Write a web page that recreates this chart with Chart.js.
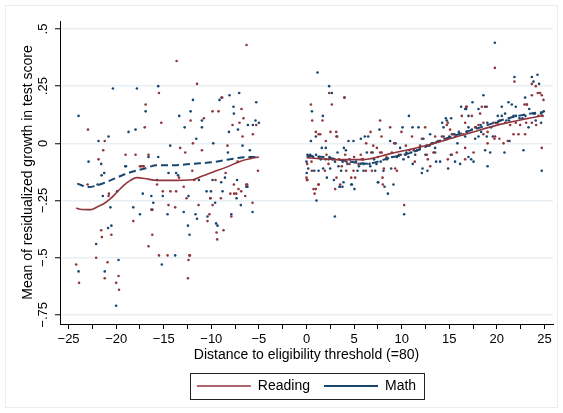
<!DOCTYPE html>
<html>
<head>
<meta charset="utf-8">
<script src="https://cdn.jsdelivr.net/npm/chart.js@4.4.0/dist/chart.umd.min.js"></script>
<style>
  html, body { margin: 0; padding: 0; background: #fff; }
</style>
</head>
<body>
<canvas id="growth" width="563" height="413"></canvas>
<script>
// axis ticks
const xTicks = [-25, -22.5, -20, -17.5, -15, -12.5, -10, -7.5, -5, -2.5, 0, 2.5, 5, 7.5, 10, 12.5, 15, 17.5, 20, 22.5, 25];
const yTicks = [0.5, 0.25, 0, -0.25, -0.5, -0.75];
const yTickLabels = ['.5', '.25', '0', '\u2212.25', '\u2212.5', '\u2212.75'];

// binned means, reading (distance, residualized growth)
const readingDots = [
  [-22.96,0.06],[-21.85,-0.07],[-21.36,-0.03],[-21.2,0.01],[-19.01,-0.05],[-17.96,-0.05],[-17.4,-0.1],[-17.1,-0.1],
  [-17.0,0.07],[-16.9,0.17],[-15.5,0.22],[-15.26,0.09],[-16.6,-0.05],[-13.65,0.36],[-13.27,-0.02],[-12.74,-0.04],
  [-12.18,0.1],[-11.5,0.26],[-11.93,0.0],[-10.99,-0.03],[-10.78,0.11],[-9.87,0.14],[-9.24,0.14],[-8.86,0.2],
  [-8.3,-0.01],[-7.77,0.08],[-7.24,-0.08],[-7.04,0.09],[-6.83,0.15],[-6.72,0.03],[-6.62,0.11],[-6.3,0.43],
  [-5.63,0.04],[-5.28,0.08],[-5.1,-0.12],
  [-24.2,-0.53],[-23.9,-0.61],[-22.1,-0.5],[-21.57,-0.38],[-21.5,-0.41],[-21.2,-0.59],[-20.9,-0.52],[-20.8,-0.23],
  [-20.5,-0.4],[-20.0,-0.61],[-19.75,-0.58],[-19.7,-0.64],[-18.2,-0.34],[-16.6,-0.45],[-16.2,-0.4],[-16.3,-0.29],
  [-15.5,-0.49],[-14.5,-0.27],[-15.1,-0.21],[-13.8,-0.28],[-12.9,-0.19],[-12.46,-0.59],[-12.4,-0.51],[-12.25,-0.49],
  [-11.34,-0.27],[-10.4,-0.34],[-10.2,-0.31],[-9.87,-0.27],[-9.45,-0.39],[-9.38,-0.42],[-8.72,-0.38],[-7.9,-0.32],
  [-7.6,-0.22],[-7.14,-0.2],[-6.44,-0.23],[-5.67,-0.26],[-6.23,-0.18],
  [-23.0,-0.18],[-20.76,-0.22],[-15.7,-0.18],[-17.5,-0.1],[-17.2,-0.1],[-13.4,-0.15],[-14.3,-0.21],[-13.7,-0.21],
  [-12.6,-0.24],[-12.0,-0.12],[-11.8,-0.16],[-10.1,-0.24],[-9.56,-0.16],[-8.5,-0.13],[-9.0,-0.24],[-8.0,-0.22],
  [-7.63,-0.18],[-7.38,-0.22],[-6.86,-0.21],[-6.33,-0.18],[-14.6,-0.49],[-12.3,-0.49],
  [0.46,0.17],[0.6,0.1],[1.68,0.1],[2.38,0.22],[2.66,0.17],[3.99,0.2],[0.98,0.05],[1.27,0.04],[1.44,0.04],
  [2.52,0.05],[3.12,0.05],[3.15,0.03],[2.03,0.01],[0.07,-0.09],[0.0,-0.15],[0.04,-0.16],[0.53,-0.08],[0.56,-0.12],
  [0.85,-0.22],[0.98,-0.2],[1.27,-0.18],[1.93,-0.12],[2.31,-0.09],[3.01,-0.2],[3.54,-0.18],[3.15,-0.15],[4.17,-0.12],
  [4.07,-0.05],[4.7,-0.15],[5.11,-0.15],[4.94,-0.12],[5.46,-0.09],[5.81,-0.07],[6.27,0.0],[6.73,0.05],[7.01,-0.01],
  [7.39,-0.02],[7.74,0.1],[7.88,0.03],[6.24,-0.12],[6.87,-0.12],[8.02,-0.18],[7.99,-0.15],[4.52,-0.09],[2.31,-0.07],
  [3.71,-0.1],[0.74,-0.2],[1.26,-0.18],[0.1,-0.16],
  [1.3,-0.06],[2.1,-0.05],[2.9,-0.07],[3.4,-0.07],[4.2,-0.08],[5.0,-0.06],[5.7,-0.05],[5.95,-0.07],[6.8,-0.04],
  [7.5,-0.06],[7.9,-0.04],
  [10.26,-0.27],[8.79,0.07],[9.98,0.05],[12.47,0.07],[11.09,0.03],[12.12,0.02],[10.44,-0.01],[9.21,0.0],[8.13,-0.11],
  [9.32,-0.11],[9.5,-0.12],[10.4,-0.05],[11.38,-0.08],[11.59,-0.03],[12.75,-0.07],[12.64,-0.05],[13.52,0.03],
  [13.34,-0.04],[13.0,-0.1],[14.22,0.03],[14.74,0.08],[15.09,0.06],[15.27,0.04],[14.85,-0.07],[15.27,-0.05],
  [15.79,-0.04],[16.32,0.12],[16.77,0.16],[16.84,0.05],[16.67,-0.07],[14.85,0.09],[7.74,-0.04],[8.97,-0.04],
  [11.94,-0.01],[10.8,-0.03],[11.3,-0.03],[12.9,-0.01],[13.8,0.01],[14.5,0.02],[15.6,0.03],[16.5,0.04],[9.7,-0.05],
  [8.4,-0.06],
  [19.79,0.33],[21.85,0.27],[23.68,0.26],[24.09,0.25],[24.55,0.22],[24.72,0.21],[24.3,0.22],[24.9,0.19],[23.68,0.21],
  [23.15,0.17],[16.84,0.16],[18.42,0.16],[18.94,0.16],[18.24,0.13],[17.37,0.12],[16.67,0.09],[17.72,0.07],[18.07,0.08],
  [18.59,0.09],[19.65,0.09],[20.1,0.09],[20.87,0.09],[21.4,0.08],[21.99,0.09],[22.45,0.08],[22.9,0.17],[24.13,0.08],
  [24.37,0.12],[24.79,0.12],[18.59,0.04],[19.03,0.05],[19.82,0.03],[20.27,0.02],[20.7,0.0],[21.15,0.01],[21.75,0.04],
  [22.27,0.04],[22.97,0.04],[23.08,0.09],[19.75,0.02],[17.55,-0.04],[16.67,-0.02],[19.03,0.0],[24.72,-0.02],[23.68,0.09]
];

// binned means, math
const mathDots = [
  [-23.95,0.12],[-22.9,-0.08],[-21.85,0.01],[-21.57,-0.09],[-21.53,-0.14],[-21.25,-0.13],[-20.8,0.03],[-20.34,0.24],
  [-19.04,-0.1],[-18.7,0.05],[-17.96,0.06],[-17.82,0.24],[-16.9,0.14],[-16.6,-0.06],[-15.58,0.25],[-15.58,-0.06],
  [-14.32,-0.01],[-13.37,0.12],[-12.8,0.07],[-12.18,0.14],[-11.93,0.19],[-11.58,0.02],[-10.99,0.07],[-10.99,0.1],
  [-9.8,0.0],[-9.14,0.19],[-8.93,0.2],[-8.26,-0.04],[-8.09,0.21],[-8.15,0.05],[-7.67,0.16],[-7.63,0.13],[-7.2,0.06],
  [-7.07,0.22],[-6.72,-0.01],[-6.16,0.08],[-5.95,-0.03],[-5.63,0.08],[-5.36,0.1],[-5.0,0.09],[-5.28,0.18],
  [-23.95,-0.56],[-22.1,-0.44],[-21.2,-0.56],[-20.85,-0.37],[-20.5,-0.36],[-20.6,-0.28],[-20.0,-0.71],[-19.75,-0.51],
  [-18.2,-0.28],[-17.2,-0.22],[-17.5,-0.31],[-16.2,-0.29],[-16.1,-0.26],[-15.2,-0.53],[-14.6,-0.31],[-13.8,-0.49],
  [-12.9,-0.3],[-12.46,-0.36],[-12.29,-0.4],[-11.66,-0.31],[-11.5,-0.33],[-10.4,-0.32],[-10.1,-0.24],[-9.6,-0.26],
  [-9.5,-0.35],[-9.35,-0.36],[-7.9,-0.31],[-6.9,-0.27],[-6.33,-0.19],[-5.67,-0.3],[-10.04,-0.21],
  [-18.97,-0.1],[-21.95,-0.18],[-21.4,-0.23],[-19.9,-0.21],[-16.3,-0.23],[-15.7,-0.16],[-14.5,-0.13],[-13.7,-0.13],
  [-13.5,-0.14],[-15.1,-0.23],[-12.4,-0.23],[-11.3,-0.16],[-10.5,-0.21],[-9.87,-0.16],[-8.96,-0.17],[-8.57,-0.15],
  [-8.82,-0.21],[-7.3,-0.16],[-7.35,-0.24],[-6.2,-0.19],
  [1.16,0.31],[2.38,0.25],[2.66,0.22],[3.99,0.2],[0.57,0.14],[1.72,0.12],[0.46,0.01],[0.98,0.03],[3.22,0.03],
  [1.61,-0.02],[2.03,-0.02],[0.11,-0.05],[0.39,-0.05],[0.0,-0.08],[0.18,-0.11],[0.02,-0.13],[0.81,-0.12],[1.27,-0.12],
  [1.75,-0.11],[2.14,-0.15],[2.49,-0.11],[2.88,-0.16],[3.26,-0.04],[3.36,-0.1],[3.64,-0.12],[3.89,-0.17],[3.5,-0.19],
  [2.98,-0.32],[1.05,-0.25],[4.41,0.01],[4.94,0.01],[3.93,-0.02],[4.14,-0.03],[4.52,-0.07],[5.04,-0.2],[4.77,-0.18],
  [5.36,-0.12],[5.67,-0.09],[5.71,0.02],[6.13,0.03],[6.48,0.03],[6.34,-0.04],[5.99,-0.12],[6.62,-0.09],[6.94,-0.04],
  [7.22,-0.12],[7.53,-0.17],[7.35,-0.09],[7.67,0.06],[8.09,-0.12],[2.42,-0.06],[2.73,-0.07],
  [8.2,-0.19],[7.5,-0.17],[9.14,-0.18],[4.7,-0.18],[3.47,-0.19],[3.78,-0.19],
  [0.3,-0.06],[0.7,-0.06],[1.0,-0.05],[1.5,-0.07],[2.0,-0.07],[3.0,-0.08],[3.8,-0.08],[4.3,-0.09],[5.2,-0.08],
  [5.5,-0.1],[6.0,-0.09],[6.7,-0.1],[7.1,-0.07],[7.8,-0.08],
  [10.76,0.12],[11.14,0.07],[11.77,0.07],[10.09,0.07],[9.35,0.0],[8.79,0.01],[9.84,-0.02],[8.9,-0.11],[8.55,-0.22],
  [10.26,-0.31],[10.71,-0.06],[11.16,-0.09],[11.42,-0.05],[12.12,-0.13],[12.19,-0.11],[12.71,-0.12],[12.29,0.02],
  [12.99,0.04],[13.16,0.0],[13.51,-0.02],[13.51,-0.04],[13.62,-0.08],[14.04,-0.08],[14.25,0.09],[14.39,0.07],
  [14.64,0.11],[14.74,0.1],[15.2,0.11],[14.88,-0.11],[15.16,-0.05],[15.61,-0.08],[15.55,0.04],[15.86,0.0],[16.25,0.16],
  [16.77,0.15],[16.14,-0.09],[16.67,0.03],[17.02,0.12],[9.5,-0.06],[8.44,-0.07],[10.19,-0.07],[11.28,-0.03],[12.5,-0.05],
  [9.0,-0.06],[9.9,-0.05],[10.5,-0.04],[11.0,-0.04],[11.9,-0.02],[12.6,-0.01],[13.3,0.0],[14.0,0.01],[14.4,0.03],
  [15.0,0.03],[15.4,0.04],[16.0,0.05],
  [19.79,0.44],[21.85,0.29],[23.68,0.29],[24.27,0.3],[23.85,0.27],[24.44,0.26],[18.59,0.21],[17.44,0.18],[16.67,0.15],
  [18.07,0.15],[18.77,0.16],[20.52,0.16],[21.22,0.18],[21.57,0.17],[21.99,0.16],[22.97,0.2],[23.15,0.17],[23.4,0.15],
  [23.85,0.13],[24.65,0.13],[24.93,0.14],[17.02,0.07],[17.37,0.06],[19.4,0.07],[19.58,0.03],[20.1,0.12],[20.52,0.12],
  [20.87,0.13],[21.29,0.1],[21.75,0.12],[22.38,0.11],[22.69,0.11],[23.33,0.07],[24.09,0.1],[24.65,0.09],[17.72,0.02],
  [18.07,0.03],[18.35,0.05],[18.94,0.03],[18.77,-0.03],[19.3,-0.04],[20.8,-0.04],[21.33,0.01],[22.8,-0.03],[17.02,-0.06],
  [17.3,-0.07],[17.55,-0.08],[19.03,-0.1],[24.72,-0.12],[16.84,0.05],
  [17.8,0.07],[18.3,0.08],[19.0,0.09],[19.9,0.09],[20.3,0.1],[21.0,0.1],[22.0,0.12],[23.0,0.12],[24.0,0.13]
];

// local smooths, each side of the threshold
const readingFitLeft = [[-24.2,-0.283],[-23.8,-0.288],[-22.65,-0.29],[-22.0,-0.278],[-21.3,-0.264],[-20.6,-0.242],[-19.9,-0.213],[-19.2,-0.184],[-18.5,-0.162],[-17.8,-0.15],[-17.0,-0.154],[-15.7,-0.162],[-14.3,-0.162],[-11.9,-0.159],[-11.2,-0.147],[-9.8,-0.125],[-8.4,-0.104],[-7.0,-0.079],[-5.9,-0.067],[-5.0,-0.06]];
const readingFitRight = [[0,-0.063],[3.2,-0.071],[6.0,-0.071],[8.8,-0.045],[11.9,-0.016],[14.75,0.016],[17.5,0.05],[20.35,0.083],[23.15,0.108],[24.9,0.122]];
const mathFitLeft = [[-24.1,-0.176],[-22.9,-0.191],[-22.0,-0.184],[-20.6,-0.162],[-18.9,-0.132],[-17.1,-0.111],[-15.7,-0.096],[-14.0,-0.096],[-11.9,-0.089],[-9.8,-0.082],[-7.7,-0.067],[-6.3,-0.06],[-5.0,-0.06]];
const mathFitRight = [[0,-0.054],[1.8,-0.06],[4.2,-0.077],[6.3,-0.089],[8.8,-0.063],[11.2,-0.038],[13.7,0.006],[16.15,0.042],[18.6,0.074],[21.05,0.108],[23.5,0.13],[24.9,0.137]];

const RED = '#90353b';
const BLUE = '#1a476f';
const FONT = "'Liberation Sans', Arial, sans-serif";

const toXY = arr => arr.map(p => ({x: p[0], y: p[1]}));
// left and right pieces joined with a gap
const joinFit = (left, right) => toXY(left).concat([{x: -2.5, y: null}], toXY(right));
const fmt = v => (v < 0 ? '\u2212' : '') + Math.abs(v);

Chart.defaults.font.family = FONT;
Chart.defaults.color = '#000';

// white page with the faint outer frame
const frame = {
  id: 'frame',
  beforeDraw(chart) {
    const c = chart.ctx;
    c.save();
    c.fillStyle = '#fff';
    c.fillRect(0, 0, chart.width, chart.height);
    c.strokeStyle = '#e6eef1';
    c.lineWidth = 1;
    c.strokeRect(5.5, 5.5, chart.width - 11, chart.height - 11);
    c.restore();
  },
  afterLayout(chart) {
    // centre the legend under the plot region
    const lg = chart.legend;
    const dx = (chart.chartArea.left + chart.chartArea.right) / 2 - (lg.left + lg.right) / 2;
    lg.left += dx;
    lg.right += dx;
  },
  afterDraw(chart) {
    const c = chart.ctx;
    const ys = chart.scales.y;
    c.save();
    // rotated y tick labels
    c.font = '13px ' + FONT;
    c.fillStyle = '#000';
    c.textAlign = 'center';
    c.textBaseline = 'middle';
    yTicks.forEach((v, i) => {
      c.save();
      c.translate(chart.chartArea.left - 17, ys.getPixelForValue(v));
      c.rotate(-Math.PI / 2);
      c.fillText(yTickLabels[i], 0, 0);
      c.restore();
    });
    // box round the legend
    const hb = chart.legend.legendHitBoxes;
    if (hb && hb.length) {
      const x0 = Math.min(...hb.map(h => h.left)) - 7;
      const x1 = Math.max(...hb.map(h => h.left + h.width)) + 8;
      const cy = hb[0].top + hb[0].height / 2;
      c.strokeStyle = '#222';
      c.lineWidth = 1;
      c.strokeRect(Math.round(x0) + 0.5, Math.round(cy - 13) + 0.5, Math.round(x1 - x0), 26);
    }
    c.restore();
  }
};

new Chart(document.getElementById('growth'), {
  type: 'scatter',
  data: {
    datasets: [
      { label: 'Reading', data: joinFit(readingFitLeft, readingFitRight), showLine: true, spanGaps: false,
        borderColor: RED, borderWidth: 1.6, pointRadius: 0, tension: 0.4, cubicInterpolationMode: 'monotone' },
      { label: 'Math', data: joinFit(mathFitLeft, mathFitRight), showLine: true, spanGaps: false,
        borderColor: BLUE, borderWidth: 2, borderDash: [7, 4], pointRadius: 0, tension: 0.4, cubicInterpolationMode: 'monotone' },
      { label: 'reading means', data: toXY(readingDots), pointRadius: 1.3, pointBorderWidth: 0,
        backgroundColor: RED, borderColor: RED },
      { label: 'math means', data: toXY(mathDots), pointRadius: 1.3, pointBorderWidth: 0,
        backgroundColor: BLUE, borderColor: BLUE }
    ]
  },
  options: {
    responsive: false,
    animation: false,
    layout: { padding: { top: 21, right: 10, bottom: 10, left: 0 } },
    plugins: {
      tooltip: { enabled: false },
      legend: {
        position: 'bottom',
        labels: {
          filter: item => item.datasetIndex < 2,
          usePointStyle: true,
          pointStyle: 'line',
          pointStyleWidth: 54,
          padding: 14,
          font: { size: 14 },
          color: '#000'
        }
      }
    },
    scales: {
      x: {
        type: 'linear',
        min: -25.9,
        max: 25.9,
        afterBuildTicks: s => { s.ticks = xTicks.map(v => ({value: v})); },
        afterFit: s => { s.height = 41; },
        ticks: { autoSkip: false, maxRotation: 0, padding: 3, font: { size: 13 },
                 callback: v => (v % 5 === 0 ? fmt(v) : '') },
        grid: { drawOnChartArea: false, tickLength: 5, tickColor: '#000' },
        border: { color: '#000', width: 1 },
        title: { display: true, text: 'Distance to eligibility threshold (=80)', font: { size: 14 },
                 padding: { top: 0, bottom: 1 } }
      },
      y: {
        min: -0.79,
        max: 0.535,
        afterBuildTicks: s => { s.ticks = yTicks.map(v => ({value: v})); },
        afterFit: s => { s.width = 60; },
        ticks: { display: false },
        grid: { color: '#e8f0f3', lineWidth: 1.5, tickLength: 5, tickColor: '#000', tickWidth: 1 },
        border: { color: '#000', width: 1 },
        title: { display: true, text: 'Mean of residualized growth in test score', font: { size: 14 },
                 padding: { top: 20, bottom: 0 } }
      }
    }
  },
  plugins: [frame]
});
</script>
</body>
</html>
